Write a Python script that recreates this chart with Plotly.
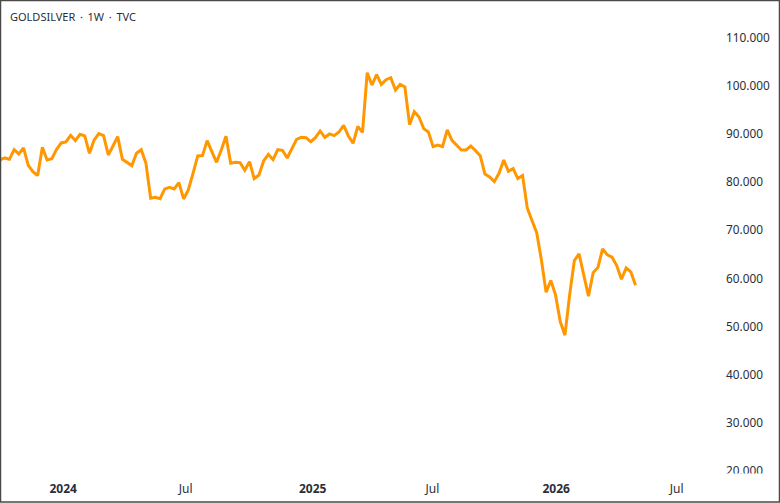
#!/usr/bin/env python3
"""GOLDSILVER weekly line chart, TradingView look."""

import pandas as pd
import plotly.graph_objects as go

FIRST_WEEK = "2023-09-29"
ratio = [
    84.64, 85.05, 84.77, 86.78, 85.88, 87.13, 83.53, 82.21, 81.38, 87.27,
    84.64, 84.91, 86.78, 88.17, 88.38, 89.76, 88.66, 89.97, 89.63, 86.02,
    88.79, 90.11, 89.70, 85.68, 87.55, 89.49, 84.77, 84.08, 83.46, 86.02,
    86.78, 83.94, 76.67, 76.88, 76.60, 78.61, 78.95, 78.61, 79.92, 76.53,
    78.40, 81.86, 85.47, 85.54, 88.66, 86.37, 84.15, 86.72, 89.56, 83.94,
    84.15, 84.08, 82.49, 84.29, 80.76, 81.51, 84.42, 85.81, 84.70, 86.78,
    86.64, 85.05, 86.92, 88.93, 89.34, 89.27, 88.44, 89.27, 90.66, 89.34,
    90.04, 89.69, 90.45, 91.84, 89.62, 88.10, 91.63, 90.38, 102.79, 100.22,
    102.37, 100.36, 101.33, 101.75, 99.18, 100.36, 99.81, 91.98, 94.68, 93.57,
    91.15, 90.45, 87.40, 87.75, 87.40, 90.87, 88.72, 87.75, 86.71, 86.71,
    87.54, 86.57, 85.53, 81.72, 81.10, 80.13, 81.86, 84.63, 82.27, 82.83,
    80.75, 81.38, 74.66, 72.03, 69.53, 63.85, 57.13, 59.55, 56.57, 51.03,
    48.19, 56.57, 63.71, 65.10, 60.66, 56.30, 61.21, 62.26, 66.14, 64.89,
    64.40, 62.67, 59.83, 62.19, 61.35, 58.58,
]
y_ticks = [20, 30, 40, 50, 60, 70, 80, 90, 100, 110]
x_tick_dates = ["2024-01-01", "2024-07-01", "2025-01-06", "2025-07-03", "2026-01-03", "2026-07-01"]
x_tick_labels = ["<b>2024</b>", "Jul", "<b>2025</b>", "Jul", "<b>2026</b>", "Jul"]

W, H = 780, 503
PLOT_R, PLOT_B = 725, 477

weeks = pd.date_range(FIRST_WEEK, periods=len(ratio), freq="7D")
FONT = "Noto Sans"
INK = "#2a2e39"

fig = go.Figure(go.Scatter(
    x=weeks,
    y=ratio,
    mode="lines",
    line=dict(color="#FF9800", width=3),
    hoverinfo="skip",
))

fig.update_layout(
    width=W,
    height=H,
    margin=dict(l=0, r=W - PLOT_R, t=0, b=H - PLOT_B),
    paper_bgcolor="white",
    plot_bgcolor="white",
    showlegend=False,
    font=dict(family=FONT, size=11.8, color=INK),
)
fig.update_xaxes(
    range=["2023-09-29", "2026-09-11"],
    tickmode="array",
    tickvals=x_tick_dates,
    ticktext=x_tick_labels,
    tickangle=0,
    tickfont=dict(size=12),
    showgrid=False,
    zeroline=False,
    showline=False,
    ticks="",
    ticklabelstandoff=3,
)
fig.update_yaxes(
    side="right",
    range=[18.7, 117.9],
    tickmode="array",
    tickvals=y_ticks,
    tickformat=".3f",
    showgrid=False,
    zeroline=False,
    showline=False,
    ticks="",
    ticklabelstandoff=0,
)

# time axis strip hides the lower part of the 20.000 label
fig.add_shape(
    type="rect", layer="above", xref="paper", yref="paper",
    x0=1.0, x1=(W - 1) / PLOT_R, y0=3.5 / PLOT_B, y1=-5 / PLOT_B,
    fillcolor="white", line_width=0,
)
# outer frame
fig.add_shape(
    type="rect", layer="above", xref="paper", yref="paper",
    x0=0.5 / PLOT_R, x1=(W - 0.5) / PLOT_R,
    y0=1 - (H - 1) / PLOT_B, y1=1 - 0.5 / PLOT_B,
    line=dict(color="#4a4a4a", width=1.5),
)
fig.add_annotation(
    text="GOLDSILVER\u2009 · \u20091W\u2009 · \u2009TVC",
    xref="paper", yref="paper",
    x=8 / PLOT_R, y=1 - 16 / PLOT_B,
    xanchor="left", yanchor="middle",
    showarrow=False,
    font=dict(family=FONT, size=11, color=INK),
)

# page margin off, otherwise the 780 px figure does not fit the window
fig.write_html(
    "out.html",
    config={"displayModeBar": False},
    post_script="document.body.style.margin = '0';",
)
